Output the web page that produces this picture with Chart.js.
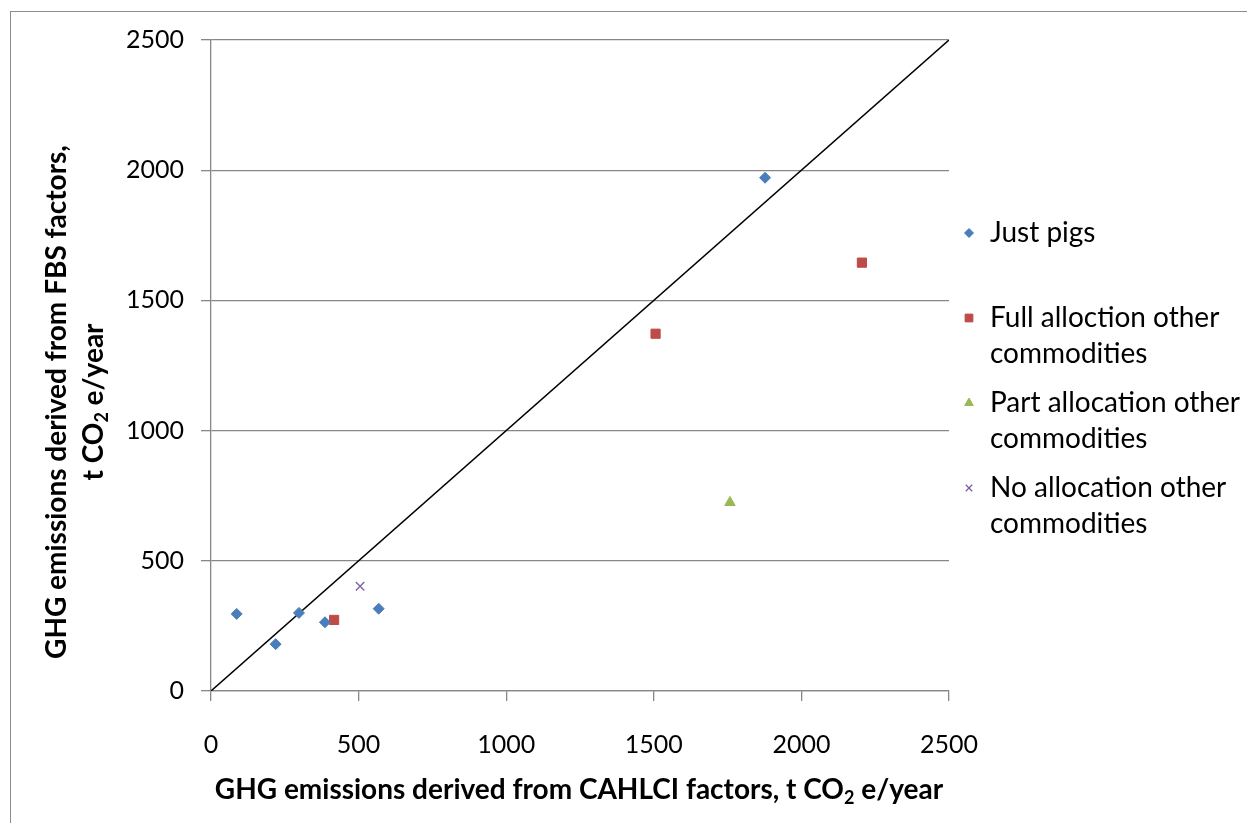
<!DOCTYPE html>
<html>
<head>
<meta charset="utf-8">
<script src="https://cdn.jsdelivr.net/npm/chart.js@4"></script>
<style>
  html, body { margin: 0; padding: 0; background: #fff; }
  #wrap { position: relative; width: 1247px; height: 823px; overflow: hidden; }
  #frame { position: absolute; left: 10px; top: 11px; width: 1400px; height: 1000px; border: 1px solid #8c8c8c; }
  canvas { position: absolute; left: 0; top: 0; }
</style>
</head>
<body>
<div id="wrap">
  <div id="frame"></div>
  <canvas id="ghg" width="1247" height="823"></canvas>
</div>
<script>
// ---------- Data ----------
const axisTicks = [0, 500, 1000, 1500, 2000, 2500];

const pigsX = [87, 219, 298, 386, 568, 1877];
const pigsY = [296, 180, 300, 264, 316, 1971];

const fullX = [417, 1506, 2205];
const fullY = [273, 1372, 1645];

const partX = [1758];
const partY = [724];

const noneX = [505];
const noneY = [402];

const parityLine = [0, 2500];

const seriesNames = [
  ['Just pigs'],
  ['Full alloction other', 'commodities'],
  ['Part allocation other', 'commodities'],
  ['No allocation other', 'commodities']
];

const toPoints = (xs, ys) => xs.map((x, i) => ({ x: x, y: ys[i] }));

const FONT = 'Lato, "Open Sans", sans-serif';

// ---------- Legend and axis titles (drawn by hand for wrapping and subscripts) ----------
const extras = {
  id: 'extras',
  afterDraw(chart) {
    const ctx = chart.ctx;
    ctx.save();

    // legend
    const rows = [233, 318, 403, 488];
    const markerX = 969;
    const textX = 990;
    ctx.textBaseline = 'middle';
    ctx.textAlign = 'left';
    chart.data.datasets.slice(0, 4).forEach((ds, i) => {
      const y = rows[i];
      ctx.fillStyle = ds.backgroundColor;
      ctx.strokeStyle = ds.borderColor;
      ctx.lineWidth = ds.borderWidth;
      Chart.helpers.drawPoint(ctx, {
        pointStyle: ds.pointStyle,
        radius: ds.legendRadius,
        borderWidth: ds.borderWidth,
        rotation: 0
      }, markerX, y);
      ctx.fillStyle = '#000';
      ctx.font = '28px ' + FONT;
      seriesNames[i].forEach((line, j) => ctx.fillText(line, textX, y + j * 35.5));
    });

    // text with a subscript "2" after "CO"
    const drawWithSub = (parts, x, y, size) => {
      const sub = Math.round(size * 0.65);
      ctx.font = 'bold ' + size + 'px ' + FONT;
      const w1 = ctx.measureText(parts[0]).width;
      const w3 = ctx.measureText(parts[1]).width;
      ctx.font = 'bold ' + sub + 'px ' + FONT;
      const w2 = ctx.measureText('2').width;
      let cx = x - (w1 + w2 + w3) / 2;
      ctx.textAlign = 'left';
      ctx.font = 'bold ' + size + 'px ' + FONT;
      ctx.fillText(parts[0], cx, y);
      cx += w1;
      ctx.font = 'bold ' + sub + 'px ' + FONT;
      ctx.fillText('2', cx, y + size * 0.3);
      cx += w2;
      ctx.font = 'bold ' + size + 'px ' + FONT;
      ctx.fillText(parts[1], cx, y);
    };

    ctx.fillStyle = '#000';
    ctx.textBaseline = 'middle';
    drawWithSub(['GHG emissions derived from CAHLCI factors, t CO', ' e/year'], 579, 790, 28);

    ctx.save();
    ctx.translate(57, 402);
    ctx.rotate(-Math.PI / 2);
    ctx.font = 'bold 28px ' + FONT;
    ctx.textAlign = 'center';
    ctx.fillText('GHG emissions derived from FBS factors,', 0, 0);
    drawWithSub(['t CO', ' e/year'], 0, 37, 28);
    ctx.restore();

    ctx.restore();
  }
};

// ---------- Chart ----------
const ctx = document.getElementById('ghg').getContext('2d');

new Chart(ctx, {
  type: 'scatter',
  data: {
    datasets: [
      {
        label: 'Just pigs',
        data: toPoints(pigsX, pigsY),
        pointStyle: 'rectRot',
        pointRadius: 5.5,
        legendRadius: 4.5,
        backgroundColor: '#4a7ebb',
        borderColor: '#4a7ebb',
        borderWidth: 1
      },
      {
        label: 'Full alloction other commodities',
        data: toPoints(fullX, fullY),
        pointStyle: 'rect',
        pointRadius: 6.5,
        legendRadius: 5.5,
        backgroundColor: '#be4b48',
        borderColor: '#be4b48',
        borderWidth: 1
      },
      {
        label: 'Part allocation other commodities',
        data: toPoints(partX, partY),
        pointStyle: 'triangle',
        pointRadius: 6,
        legendRadius: 5,
        backgroundColor: '#98b954',
        borderColor: '#98b954',
        borderWidth: 1
      },
      {
        label: 'No allocation other commodities',
        data: toPoints(noneX, noneY),
        pointStyle: 'crossRot',
        pointRadius: 6,
        legendRadius: 4.5,
        backgroundColor: '#7d60a0',
        borderColor: '#7d60a0',
        borderWidth: 1.3
      },
      {
        type: 'line',
        label: '1:1',
        data: toPoints(parityLine, parityLine),
        borderColor: '#000',
        borderWidth: 1.5,
        pointRadius: 0,
        fill: false
      }
    ]
  },
  options: {
    responsive: false,
    animation: false,
    layout: { padding: { left: 111, top: 40, right: 298, bottom: 60 } },
    plugins: {
      legend: { display: false },
      tooltip: { enabled: false }
    },
    scales: {
      x: {
        type: 'linear',
        min: 0,
        max: 2500,
        afterFit: (s) => { s.height = 72; },
        afterBuildTicks: (s) => { s.ticks = axisTicks.map(v => ({ value: v })); },
        grid: { drawOnChartArea: false, drawTicks: true, tickLength: 10, color: '#878787', lineWidth: 1.3 },
        border: { color: '#878787', width: 1.3 },
        ticks: { color: '#000', padding: 29, maxRotation: 0, font: { family: FONT, size: 25 }, callback: (v) => String(v) }
      },
      y: {
        type: 'linear',
        min: 0,
        max: 2500,
        afterFit: (s) => { s.width = 100; },
        afterBuildTicks: (s) => { s.ticks = axisTicks.map(v => ({ value: v })); },
        grid: { drawTicks: true, tickLength: 10, color: '#878787', lineWidth: 1.3 },
        border: { color: '#878787', width: 1.3 },
        ticks: { color: '#000', padding: 17, font: { family: FONT, size: 25 }, callback: (v) => String(v) }
      }
    }
  },
  plugins: [extras]
});
</script>
</body>
</html>
